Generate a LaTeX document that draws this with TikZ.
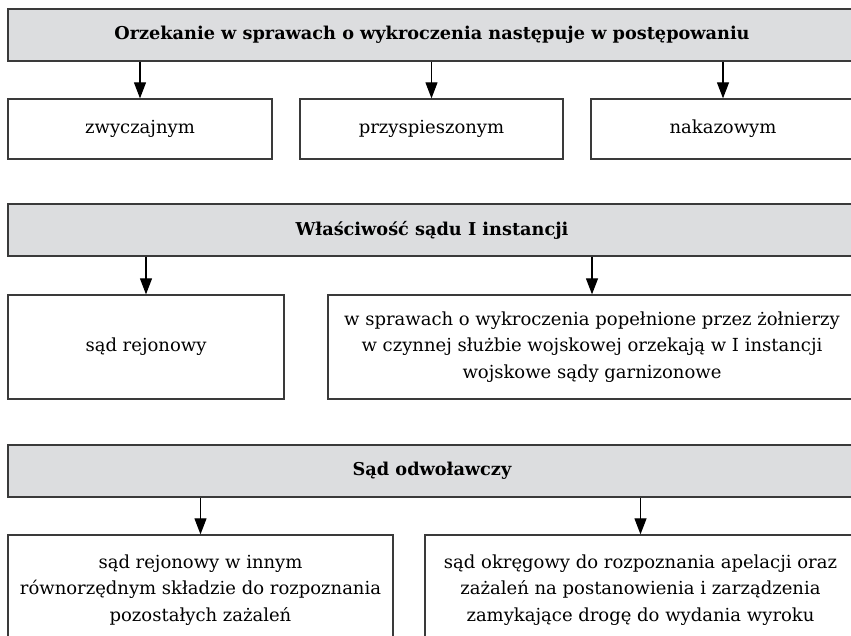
\documentclass[tikz,border=0pt]{standalone}
\usepackage{fontspec}
\setmainfont{DejaVu Serif}
\usetikzlibrary{arrows.meta, positioning}
\usetikzlibrary{calc}
\usepackage{xcolor}
\definecolor{framegray}{HTML}{3A3A3A}
\definecolor{headgray}{HTML}{DCDDDF}

\begin{document}
\begin{tikzpicture}[x=1pt,y=-1pt,
		headbox/.style={draw=framegray,line width=1.3pt,fill=headgray,minimum height=52pt,inner sep=0pt,font=\fontsize{17.7}{26}\selectfont\bfseries},
		itembox/.style={draw=framegray,line width=1.3pt,fill=white,inner sep=0pt,align=center,font=\fontsize{18}{26.5}\selectfont},
		pointer/.style={draw=black,line width=1.1pt,-{Triangle[length=16pt,width=12pt]}}]
				\useasboundingbox (0,0) rectangle (851,636);
				\clip (0,0) rectangle (851,636);
				\node[headbox,minimum width=848pt] (orzekanie) at (432,35) {Orzekanie w sprawach o wykroczenia następuje w postępowaniu};
				\node[itembox,minimum width=264pt,minimum height=60pt] (zwyczajne) at (140,129) {zwyczajnym};
				\node[itembox,minimum width=263pt,minimum height=60pt] (przyspieszone) at (431.5,129) {przyspieszonym};
				\node[itembox,minimum width=264pt,minimum height=60pt] (nakazowe) at (723,129) {nakazowym};
				\node[headbox,minimum width=848pt] (wlasciwosc) at (432,230) {Właściwość sądu I instancji};
				\node[itembox,minimum width=276pt,minimum height=104pt] (rejonowy) at (146,347) {sąd rejonowy};
				\node[itembox,minimum width=528pt,minimum height=104pt] (garnizonowe) at (592,347) {w sprawach o wykroczenia popełnione przez żołnierzy\\w czynnej służbie wojskowej orzekają w I instancji\\wojskowe sądy garnizonowe};
				\node[headbox,minimum width=848pt] (odwolawczy) at (432,471) {Sąd odwoławczy};
				\node[itembox,minimum width=385pt,minimum height=110pt] (rejonowyinny) at (200.5,590) {sąd rejonowy w innym\\równorzędnym składzie do rozpoznania\\pozostałych zażaleń};
				\node[itembox,minimum width=431pt,minimum height=110pt] (okregowy) at (640.5,590) {sąd okręgowy do rozpoznania apelacji oraz\\zażaleń na postanowienia i zarządzenia\\zamykające drogę do wydania wyroku};
				\draw[pointer] (orzekanie.south -| zwyczajne.north) -- (zwyczajne.north);
				\draw[pointer] (orzekanie.south -| przyspieszone.north) -- (przyspieszone.north);
				\draw[pointer] (orzekanie.south -| nakazowe.north) -- (nakazowe.north);
				\draw[pointer] (wlasciwosc.south -| rejonowy.north) -- (rejonowy.north);
				\draw[pointer] (wlasciwosc.south -| garnizonowe.north) -- (garnizonowe.north);
				\draw[pointer] (odwolawczy.south -| rejonowyinny.north) -- (rejonowyinny.north);
				\draw[pointer] (odwolawczy.south -| okregowy.north) -- (okregowy.north);
\end{tikzpicture}
\end{document}
